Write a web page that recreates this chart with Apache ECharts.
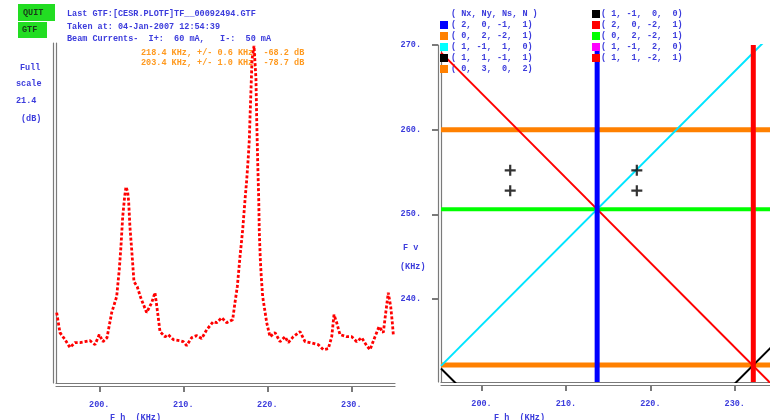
<!DOCTYPE html>
<html><head><meta charset="utf-8">
<script src="https://cdn.jsdelivr.net/npm/echarts@6/dist/echarts.min.js"></script>
<style>html,body{margin:0;padding:0;background:#fff}#c{width:770px;height:420px}</style>
</head><body><div id="c"></div>
<script>
// ---- data ----
const spectrumFh = [194.93,195.32,195.92,196.51,197.11,197.70,198.30,198.89,199.49,200.00,200.44,200.92,201.48,202.07,202.38,202.58,202.79,203.02,203.18,203.38,203.50,203.65,203.86,204.13,204.52,204.93,205.64,206.24,206.63,206.90,207.23,207.82,208.21,208.81,209.61,210.00,210.40,211.00,211.60,212.19,212.79,213.57,213.98,214.57,215.17,215.88,216.15,216.43,216.75,217.07,217.35,217.55,217.74,217.86,217.94,218.06,218.18,218.42,218.65,218.74,218.86,218.98,219.05,219.17,219.29,219.45,219.93,220.32,220.92,221.51,222.11,222.50,223.10,223.89,224.49,225.08,226.07,226.67,227.26,227.67,227.94,228.26,228.65,229.45,230.05,230.64,231.24,231.83,232.23,232.82,233.30,233.81,234.10,234.40,234.69,234.88,235.00];
const spectrumDb = [4.51,3.26,2.82,2.32,2.63,2.63,2.69,2.75,2.50,3.13,2.69,2.94,4.51,5.51,7.20,8.64,10.52,11.77,12.39,12.08,11.46,9.89,8.45,6.45,6.13,5.45,4.51,5.13,5.76,4.70,3.32,3.00,3.13,2.82,2.75,2.69,2.44,2.94,3.07,2.88,3.44,3.94,3.88,4.19,3.88,4.07,5.13,6.13,8.01,9.70,11.58,12.83,14.27,15.34,16.71,18.47,20.35,21.22,19.16,16.59,13.90,11.58,9.52,7.83,6.70,5.51,3.88,3.00,3.26,2.69,3.00,2.63,3.00,3.32,2.69,2.63,2.50,2.19,2.25,3.00,4.38,3.88,3.13,3.00,3.00,2.69,2.94,2.44,2.19,3.00,3.63,3.26,4.51,5.76,4.88,3.88,3.13];
const fhTicks = [200, 210, 220, 230];
const fvTicks = [240, 250, 260, 270];
const tuneFh = [203.4, 203.4, 218.4, 218.4];
const tuneFv = [255.2, 252.8, 255.2, 252.8];
const verticalFh = [213.7, 232.2];          // (2,0,-1,1) blue, (2,0,-2,1) red
const horizontalFv = [260.0, 250.6, 232.2]; // orange, green, orange
const diagSlope = [-1, 1, -1, 1];
const diagIntercept = [464.3, 36.9, 427.0, 0.0]; // red, cyan, black, black
const headerLines = ['Last GTF:[CESR.PLOTF]TF__00092494.GTF', 'Taken at: 04-Jan-2007 12:54:39', 'Beam Currents-  I+:  60 mA,   I-:  50 mA'];
const peakLines = ['218.4 KHz, +/- 0.6 KHz, -68.2 dB', '203.4 KHz, +/- 1.0 KHz, -78.7 dB'];
const legendHeader = '( Nx, Ny, Ns, N )';
const legendLeft = ['( 2,  0, -1,  1)', '( 0,  2, -2,  1)', '( 1, -1,  1,  0)', '( 1,  1, -1,  1)', '( 0,  3,  0,  2)'];
const legendRight = ['( 1, -1,  0,  0)', '( 2,  0, -2,  1)', '( 0,  2, -2,  1)', '( 1, -1,  2,  0)', '( 1,  1, -2,  1)'];

// ---- style ----
const BLUE = '#3c3cdc', GRAY = '#7a7a7a';
const FONT = 'Liberation Mono';
const leftColors = ['#0000ff', '#ff8000', '#00ffff', '#000000', '#ff8000'];
const rightColors = ['#000000', '#ff0000', '#00ff00', '#ff00ff', '#ff0000'];
const vColors = ['#0000ff', '#ff0000'], vWidths = [5, 5];
const hColors = ['#ff8000', '#00ff00', '#ff8000'], hWidths = [5, 4, 5];
const dColors = ['#ff0000', '#00e5ff', '#000000', '#000000'];

const LX = [194.85, 235.2], RX = [195.2, 235.6], RY = [230.2, 270.0];
const lbl = {color: BLUE, fontFamily: FONT, fontWeight: 'bold', fontSize: 8.5};

const chart = echarts.init(document.getElementById('c'));
function axisX(grid, range, outer) {
  return {type: 'value', gridIndex: grid, position: 'bottom', min: range[0], max: range[1], offset: outer ? 3 : 0,
    axisLine: {show: true, onZero: false, lineStyle: {color: GRAY, width: 1.2}},
    axisTick: {show: outer, customValues: fhTicks, length: 6, lineStyle: {color: GRAY, width: 2}},
    axisLabel: {show: outer, customValues: fhTicks, margin: 14, formatter: v => v.toFixed(0) + '.', ...lbl},
    splitLine: {show: false}};
}
function axisY(grid, range, outer, ticks) {
  return {type: 'value', gridIndex: grid, position: 'left', min: range[0], max: range[1], offset: outer ? 3 : 0,
    axisLine: {show: true, onZero: false, lineStyle: {color: GRAY, width: 1.2}},
    axisTick: {show: outer && !!ticks, customValues: ticks || [], length: 6, lineStyle: {color: GRAY, width: 2}},
    axisLabel: {show: outer && !!ticks, customValues: ticks || [], margin: 17, formatter: v => v.toFixed(0) + '.', ...lbl},
    splitLine: {show: false}};
}

const series = [];
series.push({type: 'line', xAxisIndex: 0, yAxisIndex: 0, data: spectrumFh.map((f, i) => [f, spectrumDb[i]]),
  showSymbol: false, lineStyle: {color: '#ff0000', width: 2.8, type: [3, 2]}, animation: false});
horizontalFv.forEach((fv, i) => series.push({type: 'line', xAxisIndex: 2, yAxisIndex: 2,
  data: [[RX[0], fv], [RX[1], fv]], showSymbol: false, lineStyle: {color: hColors[i], width: hWidths[i]}, animation: false}));
diagSlope.forEach((s, i) => series.push({type: 'line', xAxisIndex: 2, yAxisIndex: 2, clip: true,
  data: [[RX[0], s * RX[0] + diagIntercept[i]], [RX[1], s * RX[1] + diagIntercept[i]]],
  showSymbol: false, lineStyle: {color: dColors[i], width: 2}, animation: false}));
verticalFh.forEach((fh, i) => series.push({type: 'line', xAxisIndex: 2, yAxisIndex: 2,
  data: [[fh, RY[0]], [fh, RY[1]]], showSymbol: false, lineStyle: {color: vColors[i], width: vWidths[i]}, animation: false}));
series.push({type: 'scatter', xAxisIndex: 2, yAxisIndex: 2, data: tuneFh.map((f, i) => [f, tuneFv[i]]),
  symbol: 'path://M4,0H6V4H10V6H6V10H4V6H0V4H4Z', symbolSize: 11, itemStyle: {color: '#000'}, animation: false, z: 5});

const graphic = [];
const txt = (x, y, s, color, extra) => graphic.push({type: 'text', x, y, style: Object.assign({text: s, fill: color || BLUE,
  font: 'bold 8.5px "' + FONT + '"', textVerticalAlign: 'middle'}, extra || {})});
graphic.push({type: 'rect', shape: {x: 18, y: 4, width: 37, height: 17}, style: {fill: '#22dd22'}});
graphic.push({type: 'rect', shape: {x: 18, y: 22, width: 29, height: 16}, style: {fill: '#22dd22'}});
txt(23, 13, 'QUIT', '#1a3a1a');
txt(22, 30, 'GTF', '#1a3a1a');
headerLines.forEach((s, i) => txt(67, 14 + 12.5 * i, s));
peakLines.forEach((s, i) => txt(141, 53 + 10 * i, s, '#ff9a20'));
txt(20, 68, 'Full'); txt(16, 84, 'scale'); txt(16, 101, '21.4'); txt(21, 119, '(dB)');
txt(110, 418, 'F h  (KHz)'); txt(494, 418, 'F h  (KHz)');
txt(403, 248, 'F v'); txt(400, 267, '(KHz)');
txt(451, 14, legendHeader);
legendLeft.forEach((s, i) => {
  graphic.push({type: 'rect', shape: {x: 440, y: 21 + 11 * i, width: 8, height: 8}, style: {fill: leftColors[i]}, z: 10});
  txt(451, 25 + 11 * i, s);
});
legendRight.forEach((s, i) => {
  graphic.push({type: 'rect', shape: {x: 592, y: 10 + 11 * i, width: 8, height: 8}, style: {fill: rightColors[i]}, z: 10});
  txt(601, 14 + 11 * i, s);
});

chart.setOption({
  animation: false,
  grid: [
    {left: 56, top: 43, width: 339, height: 340, outerBoundsMode: 'none', containLabel: false},
    {left: 56, top: 43, width: 339, height: 340, outerBoundsMode: 'none', containLabel: false},
    {left: 441, top: 45, width: 341, height: 337, outerBoundsMode: 'none', containLabel: false}
  ],
  xAxis: [axisX(0, LX, false), axisX(1, LX, true), axisX(2, RX, false), axisX(2, RX, true)],
  yAxis: [axisY(0, [0.1, 21.4], false), axisY(1, [0.1, 21.4], true, null), axisY(2, RY, false), axisY(2, RY, true, fvTicks)],
  series,
  graphic
});
</script></body></html>
